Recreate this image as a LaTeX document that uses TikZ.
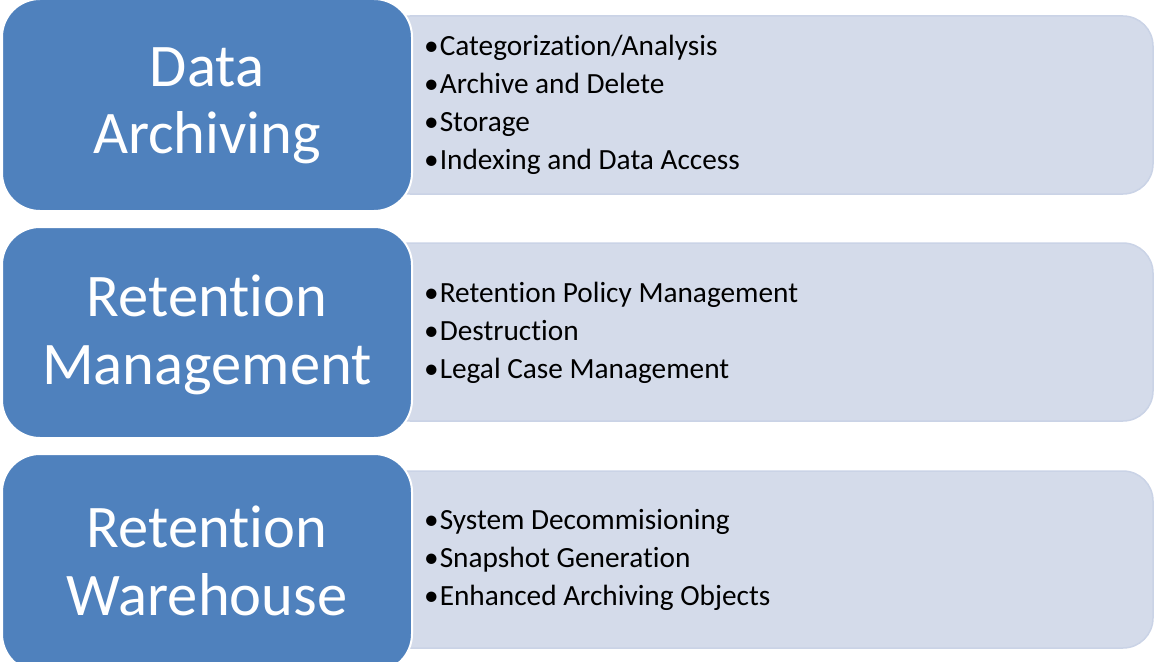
\documentclass[tikz,border=0pt]{standalone}
\usepackage{fontspec}
\setmainfont[Ligatures={NoCommon}]{Carlito}
\definecolor{hdrblue}{HTML}{4F81BD}
\definecolor{lightfill}{HTML}{D4DBEA}
\definecolor{lightedge}{HTML}{CAD3E6}
\begin{document}
\begin{tikzpicture}[x=1pt,y=-1pt,
  hdrbox/.style={draw=white,line width=2pt,fill=hdrblue,rounded corners=38pt},
  itembox/.style={draw=lightedge,line width=1.5pt,fill=lightfill,rounded corners=30pt},
  hdrtext/.style={text=white,align=center,font=\fontsize{60.5}{67.5}\selectfont,inner sep=0pt},
  itemtext/.style={text=black,align=left,anchor=west,font=\fontsize{29.3}{37.8}\selectfont,inner sep=0pt}]
\useasboundingbox (0,0) rectangle (1155,661);
% item boxes (behind)
\draw[itembox] (380,16) rectangle (1153,194);
\draw[itembox] (380,243) rectangle (1153,421);
\draw[itembox] (380,471) rectangle (1153,648);
% header boxes
\draw[hdrbox] (2,-1) rectangle (412,211);
\draw[hdrbox] (2,227) rectangle (412,438);
\draw[hdrbox] (2,454) rectangle (412,672);
% header texts
\node[hdrtext] (h1) at (207,106) {Data\\Archiving};
\node[hdrtext] (h2) at (207,335) {Retention\\Management};
\node[hdrtext] (h3) at (207,561) {Retention\\Warehouse};
% item texts
\node[itemtext] (l1) at (424,105) {•\kern1pt Categorization/Analysis\\•\kern1pt Archive and Delete\\•\kern1pt Storage\\•\kern1pt Indexing and Data Access};
\node[itemtext] (l2) at (424,333) {•\kern1pt Retention Policy Management\\•\kern1pt Destruction\\•\kern1pt Legal Case Management};
\node[itemtext] (l3) at (424,560) {•\kern1pt System Decommisioning\\•\kern1pt Snapshot Generation\\•\kern1pt Enhanced Archiving Objects};
\end{tikzpicture}
\end{document}
